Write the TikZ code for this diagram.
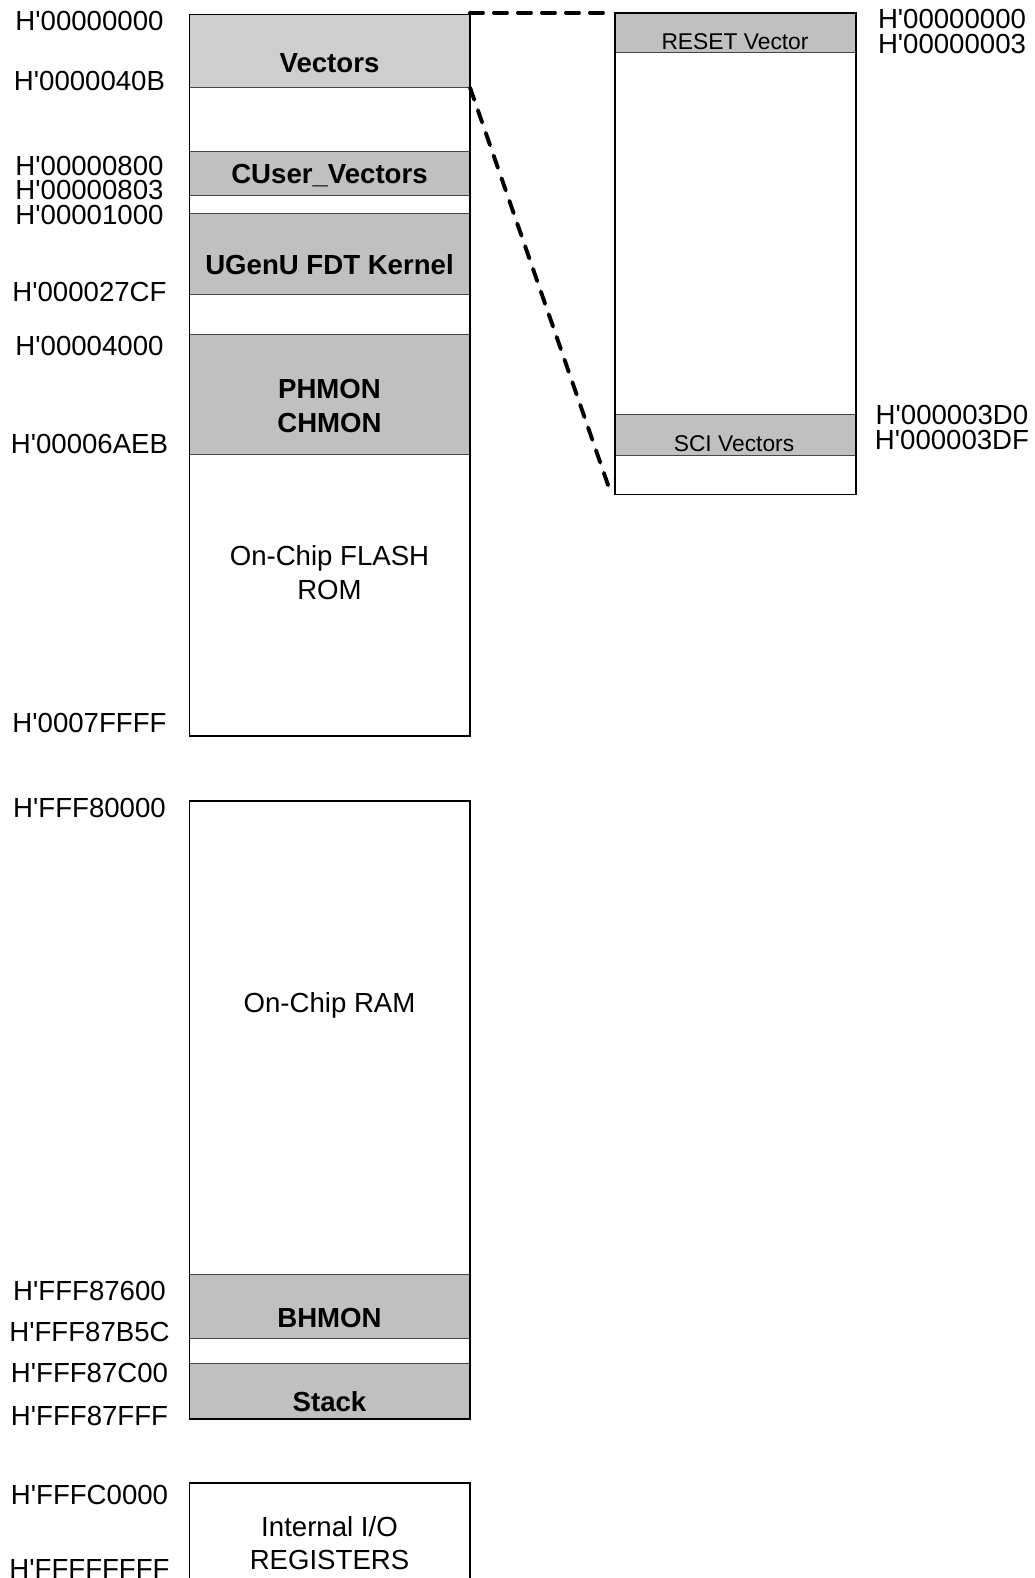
\documentclass[tikz,border=0pt]{standalone}
\usepackage{fontspec}
\setmainfont{Liberation Sans}
\usetikzlibrary{calc}
\definecolor{bandgray}{RGB}{192,192,192}
\definecolor{veclight}{RGB}{206,206,206}
\definecolor{bandline}{RGB}{70,70,70}
\newcommand{\hx}[1]{H\textquotesingle #1}
\begin{document}
\begin{tikzpicture}[x=1pt,y=-1pt,
  band/.style={rectangle, draw=bandline, line width=1pt, inner sep=0pt, outer sep=0pt, minimum width=280.5pt},
  zband/.style={rectangle, draw=bandline, line width=1pt, inner sep=0pt, outer sep=0pt, minimum width=241pt},
  frame/.style={rectangle, draw=black, line width=1.8pt, inner sep=0pt, outer sep=0pt},
  addr/.style={font=\fontsize{27.6}{33.6}\selectfont, anchor=base, inner sep=0pt},
  blbl/.style={font=\fontsize{27.6}{33.6}\selectfont\bfseries, inner sep=0pt, align=center},
  rlbl/.style={font=\fontsize{27.6}{33.6}\selectfont, inner sep=0pt, align=center},
  slbl/.style={font=\fontsize{22.8}{27}\selectfont, anchor=base, inner sep=0pt},
  conn/.style={draw=black, line width=3.9pt, line cap=round, dash pattern=on 13pt off 11pt}
]
\path[use as bounding box] (0,0) rectangle (1035,1578);
\fill[white] (0,0) rectangle (1035,1578);
\clip (0,0) rectangle (1035,1578);

% ---- ROM block bands
\node[band, fill=veclight, minimum height=73pt] (vec) at (329.75,51) {};
\node[band, fill=white, minimum height=64.5pt] (gap1) at (329.75,119.75) {};
\node[band, fill=bandgray, minimum height=43.5pt] (cuser) at (329.75,173.75) {};
\node[band, fill=white, minimum height=18pt] (gap2) at (329.75,204.5) {};
\node[band, fill=bandgray, minimum height=81pt] (ugenu) at (329.75,254) {};
\node[band, fill=white, minimum height=40pt] (gap3) at (329.75,314.5) {};
\node[band, fill=bandgray, minimum height=120.2pt] (phmon) at (329.75,394.6) {};
\node[band, fill=white, minimum height=281.3pt] (flash) at (329.75,595.35) {};
\node[frame, minimum width=280.5pt, minimum height=721.5pt] (rom) at (329.75,375.25) {};

% ---- RAM block bands
\node[band, fill=white, minimum height=473.6pt] (ramfree) at (329.75,1037.5) {};
\node[band, fill=bandgray, minimum height=64.4pt] (bhmon) at (329.75,1306.5) {};
\node[band, fill=white, minimum height=25pt] (gap4) at (329.75,1351.2) {};
\node[band, fill=bandgray, minimum height=55.3pt] (stack) at (329.75,1391.35) {};
\node[frame, minimum width=280.5pt, minimum height=618.3pt] (ram) at (329.75,1109.85) {};

% ---- I/O block
\node[frame, fill=white, minimum width=280.5pt, minimum height=140pt] (io) at (329.75,1553.3) {};

% ---- zoomed vector table
\node[zband, fill=bandgray, minimum height=40pt] (reset) at (735.5,32.7) {};
\node[zband, fill=white, minimum height=362.1pt] (zfree) at (735.5,233.75) {};
\node[zband, fill=bandgray, minimum height=40.2pt] (sci) at (735.5,434.9) {};
\node[zband, fill=white, minimum height=39.5pt] (zend) at (735.5,474.75) {};
\node[frame, minimum width=241pt, minimum height=481.8pt] (zoom) at (735.5,253.6) {};

% ---- connectors
\draw[conn] (vec.north east |- zoom.north west) -- ($(zoom.north west)+(-9,0)$);
\draw[conn] (vec.south east) -- ($(zoom.south west)+(-4,-1)$);

% ---- block labels
\node[blbl, anchor=base] (tvec) at (329.5,72.1) {Vectors};
\node[blbl, anchor=base] (tcuser) at (329.5,183.6) {CUser\_Vectors};
\node[blbl, anchor=base] (tugenu) at (329.5,274.4) {UGenU FDT Kernel};
\node[blbl] (tphmon) at (329.5,406.2) {PHMON\\CHMON};
\node[rlbl] (tflash) at (329.5,572.6) {On-Chip FLASH\\ROM};
\node[rlbl, anchor=base] (tram) at (329.5,1012.1) {On-Chip RAM};
\node[blbl, anchor=base] (tbhmon) at (329.5,1327.1) {BHMON};
\node[blbl, anchor=base] (tstack) at (329.5,1411.1) {Stack};
\node[rlbl] (tio) at (329.5,1543) {Internal I/O\\REGISTERS};
\node[slbl] (treset) at (735,49.9) {RESET Vector};
\node[slbl] (tsci) at (734,451.2) {SCI Vectors};

% ---- left addresses
\node[addr] (a1) at (89.5,30.7) {\hx{00000000}};
\node[addr] (a2) at (89.5,90.4) {\hx{0000040B}};
\node[addr] (a3) at (89.5,175.1) {\hx{00000800}};
\node[addr] (a4) at (89.5,199.6) {\hx{00000803}};
\node[addr] (a5) at (89.5,224.4) {\hx{00001000}};
\node[addr] (a6) at (89.5,301.2) {\hx{000027CF}};
\node[addr] (a7) at (89.5,355.4) {\hx{00004000}};
\node[addr] (a8) at (89.5,453.6) {\hx{00006AEB}};
\node[addr] (a9) at (89.5,732.1) {\hx{0007FFFF}};
\node[addr] (a10) at (89.5,817.1) {\hx{FFF80000}};
\node[addr] (a11) at (89.5,1300.6) {\hx{FFF87600}};
\node[addr] (a12) at (89.5,1341.4) {\hx{FFF87B5C}};
\node[addr] (a13) at (89.5,1382.2) {\hx{FFF87C00}};
\node[addr] (a14) at (89.5,1425.4) {\hx{FFF87FFF}};
\node[addr] (a15) at (89.5,1504.6) {\hx{FFFC0000}};
\node[addr] (a16) at (89.5,1578.1) {\hx{FFFFFFFF}};

% ---- right addresses
\node[addr] (b1) at (952,28.7) {\hx{00000000}};
\node[addr] (b2) at (952,53.7) {\hx{00000003}};
\node[addr] (b3) at (952,424.4) {\hx{000003D0}};
\node[addr] (b4) at (952,449.6) {\hx{000003DF}};
\end{tikzpicture}
\end{document}
